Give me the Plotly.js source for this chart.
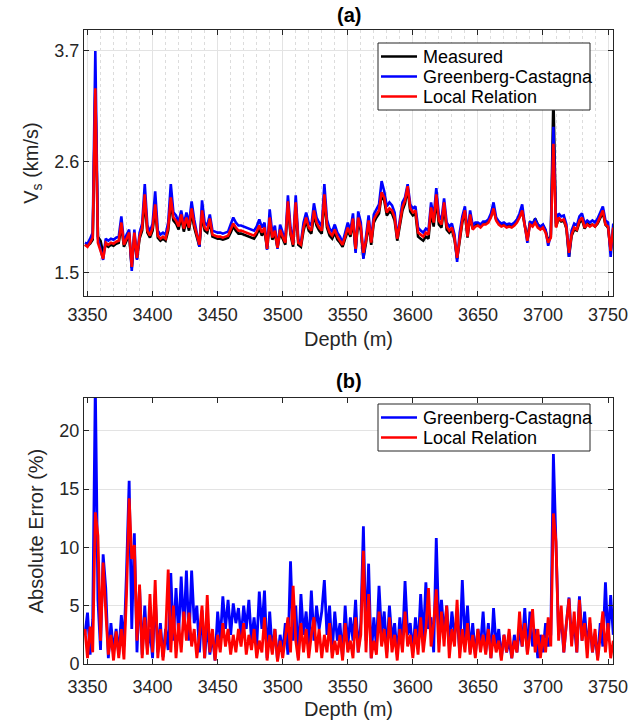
<!DOCTYPE html>
<html>
<head>
<meta charset="utf-8">
<script src="https://cdn.plot.ly/plotly-3.0.1.min.js"></script>
<style>html,body{margin:0;padding:0;background:#fff;}#chart{width:642px;height:725px;}</style>
</head>
<body>
<div id="chart"></div>
<script>
// Depth sampling (m): first sample and sample step
const depthStart = 3348;
const depthStep = 2;

// Panel (a): shear-wave velocity Vs (km/s)
const measured = [
1.78,1.77,1.79,1.83,3.30,1.86,1.82,1.70,1.78,1.76,
1.78,1.77,1.79,1.80,1.97,1.76,1.82,1.88,1.55,1.88,
1.64,1.84,1.92,2.22,1.90,1.85,1.92,2.14,1.85,1.82,
1.84,1.82,1.92,2.20,2.02,1.99,1.93,2.05,1.91,2.02,
1.92,2.10,1.95,1.85,1.76,2.08,1.92,1.90,2.01,1.86,
1.85,1.84,1.84,1.83,1.84,1.85,1.90,1.96,1.92,1.89,
1.89,1.88,1.87,1.86,1.85,1.84,1.88,1.94,1.87,1.92,
1.74,2.01,1.83,1.89,1.75,1.90,1.84,1.78,2.17,1.88,
1.76,2.16,1.78,1.76,1.92,2.02,1.92,1.89,2.08,1.97,
1.92,1.89,2.24,1.95,1.87,1.84,1.90,1.83,1.80,1.76,
1.84,1.92,1.86,2.01,1.72,2.02,1.92,1.65,1.80,1.99,
1.78,2.00,2.05,2.09,2.27,2.22,2.07,2.11,2.09,2.02,
1.82,1.97,2.12,2.19,2.34,2.11,2.07,2.09,1.86,1.84,
1.82,1.86,1.84,2.10,1.96,2.23,1.98,1.95,2.16,1.93,
1.90,1.93,1.83,1.64,1.85,2.00,2.10,1.85,2.06,1.94,
1.98,1.99,1.97,2.00,2.00,2.02,2.06,2.13,2.03,2.00,
1.98,1.99,1.97,1.98,1.97,1.99,2.02,2.06,2.11,1.97,
1.84,2.00,1.98,2.04,1.98,1.95,1.97,1.92,1.82,1.86,
3.25,1.96,2.04,2.01,2.02,1.94,1.66,1.87,1.93,1.92,
2.00,2.03,1.94,1.99,1.97,1.98,1.96,1.99,2.05,2.10,
1.98,1.95,1.72,1.94];

const greenbergCastagna = [
1.80,1.79,1.84,1.90,3.70,1.84,1.74,1.63,1.84,1.82,
1.84,1.83,1.85,1.86,2.06,1.80,1.88,1.93,1.52,1.93,
1.63,1.90,1.99,2.38,1.97,1.91,1.99,2.31,1.92,1.88,
1.90,1.88,2.00,2.38,2.10,2.07,2.00,2.12,1.98,2.10,
1.99,2.21,2.03,1.91,1.76,2.22,2.00,1.97,2.08,1.92,
1.91,1.90,1.90,1.89,1.90,1.91,1.98,2.05,2.00,1.97,
1.97,1.96,1.95,1.94,1.93,1.92,1.96,2.03,1.95,2.00,
1.73,2.13,1.89,1.97,1.74,1.98,1.90,1.83,2.27,1.95,
1.80,2.27,1.83,1.80,2.00,2.10,2.00,1.97,2.19,2.05,
2.00,1.96,2.38,2.03,1.94,1.91,1.98,1.90,1.86,1.80,
1.90,2.00,1.92,2.09,1.70,2.11,2.00,1.64,1.86,2.07,
1.82,2.08,2.13,2.18,2.41,2.31,2.16,2.20,2.17,2.10,
1.85,2.05,2.20,2.25,2.38,2.18,2.14,2.16,1.95,1.92,
1.90,1.94,1.92,2.20,2.05,2.34,2.07,2.03,2.24,2.00,
1.96,1.99,1.88,1.61,1.90,2.06,2.16,1.89,2.12,1.97,
2.00,2.00,1.98,2.01,2.01,2.03,2.09,2.20,2.05,2.01,
1.99,2.00,1.98,1.99,1.98,2.00,2.03,2.09,2.18,1.98,
1.80,2.01,1.99,2.03,1.98,1.96,1.98,1.93,1.77,1.88,
2.95,1.99,2.09,2.06,2.07,1.98,1.66,1.92,1.99,1.97,
2.06,2.09,1.99,2.02,2.00,2.02,2.00,2.04,2.10,2.16,
2.02,2.00,1.66,1.99];

const localRelation = [
1.78,1.76,1.80,1.85,3.33,1.80,1.72,1.64,1.80,1.78,
1.80,1.79,1.81,1.82,2.00,1.78,1.84,1.90,1.56,1.90,
1.65,1.86,1.95,2.28,1.92,1.87,1.95,2.18,1.87,1.84,
1.86,1.84,1.95,2.25,2.05,2.02,1.96,2.08,1.94,2.05,
1.95,2.14,1.98,1.87,1.78,2.12,1.95,1.92,2.04,1.88,
1.87,1.86,1.86,1.85,1.86,1.87,1.93,1.99,1.95,1.92,
1.92,1.91,1.90,1.89,1.88,1.87,1.91,1.97,1.90,1.95,
1.74,2.05,1.85,1.92,1.75,1.93,1.86,1.80,2.21,1.90,
1.78,2.20,1.80,1.78,1.95,2.05,1.95,1.92,2.12,2.00,
1.95,1.92,2.28,1.98,1.90,1.87,1.93,1.86,1.82,1.78,
1.86,1.95,1.88,2.04,1.74,2.05,1.95,1.70,1.82,2.02,
1.80,2.03,2.08,2.12,2.30,2.25,2.10,2.14,2.12,2.05,
1.84,2.00,2.15,2.22,2.36,2.14,2.10,2.12,1.90,1.88,
1.86,1.90,1.88,2.15,2.00,2.28,2.02,1.98,2.20,1.96,
1.92,1.95,1.85,1.65,1.86,2.02,2.12,1.86,2.08,1.93,
1.96,1.97,1.95,1.98,1.98,2.00,2.05,2.14,2.02,1.98,
1.96,1.97,1.95,1.96,1.95,1.97,2.00,2.05,2.12,1.95,
1.82,1.98,1.96,2.00,1.95,1.93,1.95,1.90,1.80,1.85,
2.78,1.95,2.05,2.02,2.03,1.95,1.70,1.88,1.95,1.93,
2.02,2.05,1.95,1.98,1.96,1.98,1.96,2.00,2.06,2.12,
1.98,1.96,1.72,1.95];

// Panel (b): absolute error (%)
const errGC = [
2.5,4.4,0.8,3.8,24.0,5.5,1.2,9.4,6.5,0.5,
3.5,1.0,3.0,0.8,4.2,1.5,8.0,15.7,3.0,11.2,
1.0,6.6,0.8,5.0,1.2,3.0,0.5,6.0,1.0,3.5,
0.6,3.0,1.2,7.8,2.0,6.5,2.5,7.5,3.0,8.0,
2.0,8.0,3.5,5.0,1.0,4.6,0.5,3.5,0.8,2.5,
0.3,4.5,2.0,5.8,3.0,5.5,2.5,5.2,3.5,4.8,
2.2,5.0,3.0,5.5,2.0,4.0,1.5,6.2,3.0,6.3,
0.5,4.5,1.0,3.0,0.3,2.5,1.0,3.5,0.8,8.8,
2.0,5.0,0.5,6.0,2.5,4.5,1.5,6.3,2.0,5.0,
3.0,4.5,7.2,2.5,5.0,1.0,4.5,2.0,3.5,0.5,
5.0,1.5,4.0,2.0,5.5,1.0,3.5,11.8,2.0,8.6,
0.5,4.0,1.5,6.7,2.5,4.5,1.0,5.0,2.0,3.5,
0.8,4.0,1.5,7.1,2.5,3.5,1.0,4.0,1.5,6.0,
2.0,7.0,3.0,4.0,1.0,10.8,3.0,5.5,2.5,5.0,
1.5,4.5,2.5,4.0,1.0,7.2,2.0,5.0,1.0,3.5,
0.8,3.0,1.5,4.5,1.0,3.5,0.5,4.8,1.5,3.0,
0.5,2.5,1.0,2.0,0.5,2.5,1.0,3.0,1.5,4.8,
1.0,4.5,1.5,3.0,0.5,2.5,1.0,3.5,1.5,2.5,
18.0,9.5,2.5,4.0,1.0,3.5,5.7,2.0,3.5,1.0,
5.8,2.0,4.5,1.5,3.5,1.0,2.5,0.5,3.5,1.5,
7.0,2.0,5.9,2.5];

const errLR = [
3.0,0.5,3.2,1.0,13.0,11.0,2.0,8.7,4.5,0.8,
2.5,0.3,2.8,0.5,3.0,0.4,6.0,14.2,9.0,10.2,
2.0,6.8,0.5,4.0,0.8,6.0,1.0,7.2,0.5,3.0,
0.3,2.5,8.1,1.0,5.0,0.5,3.5,1.0,4.5,2.0,
4.4,1.5,3.0,0.5,2.5,5.0,0.5,5.9,1.0,3.0,
0.3,2.5,1.0,3.5,1.5,3.0,0.8,2.5,1.0,3.0,
1.5,3.5,0.8,2.5,1.2,3.0,0.5,2.0,1.0,4.0,
0.3,2.5,0.8,3.0,0.2,2.0,0.5,2.5,4.0,1.0,
6.7,2.0,0.3,3.5,1.0,3.0,0.5,2.5,4.0,1.0,
3.0,0.5,2.5,1.0,3.5,0.5,2.0,0.8,2.5,0.3,
3.5,1.0,2.0,0.5,4.0,1.0,2.5,9.7,1.0,6.0,
0.5,2.0,0.8,4.5,1.5,3.0,0.5,4.0,1.0,2.5,
0.3,3.0,1.0,4.5,1.5,2.5,0.5,3.0,0.8,4.0,
1.0,3.0,6.5,1.5,3.5,6.4,1.0,4.5,1.5,5.0,
0.5,3.0,1.5,5.5,0.5,3.0,1.0,3.5,0.8,2.5,
0.5,3.0,1.0,2.5,0.8,3.0,0.5,2.5,1.0,2.0,
0.3,2.5,1.0,3.0,0.5,2.0,1.0,4.5,1.5,3.5,
0.8,2.5,4.7,1.0,3.0,0.5,2.5,1.0,4.0,1.5,
12.9,10.5,2.0,5.0,1.0,3.5,5.6,1.5,4.5,1.0,
5.5,2.0,3.5,0.5,4.0,1.0,3.0,0.3,2.5,4.5,
1.0,3.5,0.5,2.0];

const xTicks = [3350,3400,3450,3500,3550,3600,3650,3700,3750];
const vsTicks = [1.5,2.6,3.7];
const errTicks = [0,5,10,15,20];

const namesA = ['Measured', 'Greenberg-Castagna', 'Local Relation'];
const colorsA = ['#000000', '#0000ff', '#ff0000'];
const namesB = ['Greenberg-Castagna', 'Local Relation'];
const colorsB = ['#0000ff', '#ff0000'];

const FONT = 'Liberation Sans, Arial, Helvetica, sans-serif';
const AX = '#262626';
const W = 642, H = 725;
const px = v => v / W;
const py = v => 1 - v / H;
const xDom = [px(84), px(613)];
const yDomTop = [py(296), py(30)];
const yDomBot = [py(664), py(398)];

function line(y, color, name, xa, ya, w) {
  return {type:'scatter', mode:'lines', x0: depthStart, dx: depthStep, y: y, name: name,
          xaxis: xa, yaxis: ya, showlegend: false,
          line: {color: color, width: w}, hoverinfo: 'skip'};
}

const traces = [
  line(measured, colorsA[0], namesA[0], 'x', 'y', 2.6),
  line(greenbergCastagna, colorsA[1], namesA[1], 'x', 'y', 2.6),
  line(localRelation, colorsA[2], namesA[2], 'x', 'y', 2.6),
  line(errGC, colorsB[0], namesB[0], 'x2', 'y2', 2.8),
  line(errLR, colorsB[1], namesB[1], 'x2', 'y2', 2.8)
];

// Legend boxes (drawn with shapes + annotations, MATLAB style)
const shapes = [];
const annotations = [];
function legendBox(names, colors, top, bottom, rowTop, rowStep) {
  shapes.push({type: 'rect', xref: 'paper', yref: 'paper', layer: 'above',
    x0: px(378), x1: px(590), y0: py(bottom), y1: py(top),
    fillcolor: '#ffffff', line: {color: AX, width: 1}});
  names.forEach((n, i) => {
    const yy = rowTop + i * rowStep;
    shapes.push({type: 'line', xref: 'paper', yref: 'paper', layer: 'above',
      x0: px(381), x1: px(417), y0: py(yy), y1: py(yy),
      line: {color: colors[i], width: 2.6}});
    annotations.push({text: n, xref: 'paper', yref: 'paper', x: px(421), y: py(yy),
      xanchor: 'left', yanchor: 'middle', showarrow: false,
      font: {family: FONT, size: 18, color: '#000'}});
  });
}
legendBox(namesA, colorsA, 43, 110, 56.5, 20);
legendBox(namesB, colorsB, 404, 451, 417.5, 20);

annotations.push(
  {text: '<b>(a)</b>', xref: 'paper', yref: 'paper', x: (xDom[0]+xDom[1])/2, y: py(15),
   xanchor: 'center', yanchor: 'middle', showarrow: false, font: {family: FONT, size: 20, color: '#000'}},
  {text: '<b>(b)</b>', xref: 'paper', yref: 'paper', x: (xDom[0]+xDom[1])/2, y: py(381),
   xanchor: 'center', yanchor: 'middle', showarrow: false, font: {family: FONT, size: 20, color: '#000'}}
);

const baseAxis = {
  showline: true, linecolor: AX, linewidth: 1, mirror: 'ticks',
  ticks: 'inside', ticklen: 5, tickcolor: AX, tickwidth: 1,
  zeroline: false, tickfont: {family: FONT, size: 18, color: AX},
  gridcolor: '#e3e3e3', gridwidth: 1
};

const layout = {
  width: W, height: H,
  margin: {l: 0, r: 0, t: 0, b: 0},
  paper_bgcolor: '#ffffff', plot_bgcolor: '#ffffff',
  font: {family: FONT, color: AX},
  showlegend: false,
  xaxis: Object.assign({}, baseAxis, {
    domain: xDom, anchor: 'y', range: [3347.3, 3753.8],
    tickmode: 'array', tickvals: xTicks, showgrid: true, ticklabelstandoff: 2,
    minor: {dtick: 10, tick0: 3350, showgrid: true, griddash: 'dot', gridcolor: '#dcdcdc', gridwidth: 1, ticks: ''},
    title: {text: 'Depth (m)', font: {family: FONT, size: 20, color: AX}, standoff: 8}
  }),
  yaxis: Object.assign({}, baseAxis, {
    domain: yDomTop, anchor: 'x', range: [1.272, 3.908],
    tickmode: 'array', tickvals: vsTicks, showgrid: true,
    title: {text: 'V<sub>s</sub> (km/s)', font: {family: FONT, size: 20, color: AX}, standoff: 10}
  }),
  xaxis2: Object.assign({}, baseAxis, {
    domain: xDom, anchor: 'y2', range: [3347.3, 3753.8],
    tickmode: 'array', tickvals: xTicks, showgrid: false, ticklabelstandoff: 6,
    title: {text: 'Depth (m)', font: {family: FONT, size: 20, color: AX}, standoff: 6}
  }),
  yaxis2: Object.assign({}, baseAxis, {
    domain: yDomBot, anchor: 'x2', range: [0, 22.8],
    tickmode: 'array', tickvals: errTicks, showgrid: true,
    title: {text: 'Absolute Error (%)', font: {family: FONT, size: 20, color: AX}, standoff: 10}
  }),
  shapes: shapes,
  annotations: annotations
};

Plotly.newPlot('chart', traces, layout, {staticPlot: true, displayModeBar: false});
</script>
</body>
</html>
